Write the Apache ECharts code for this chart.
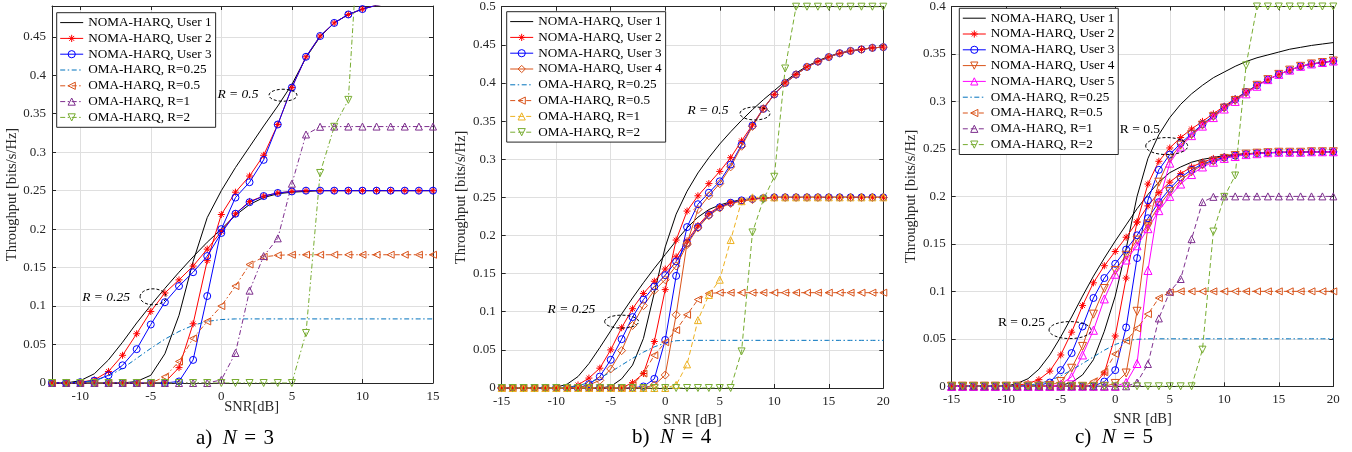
<!DOCTYPE html>
<html><head><meta charset="utf-8">
<script src="https://cdn.jsdelivr.net/npm/echarts@6/dist/echarts.min.js"></script>
<style>html,body{margin:0;padding:0;background:#fff;}#c{width:1352px;height:452px;}</style>
</head><body><div id="c"></div>
<script>
// ---------------- DATA ----------------
const snrA = [-12,-11,-10,-9,-8,-7,-6,-5,-4,-3,-2,-1,0,1,2,3,4,5,6,7,8,9,10,11,12,13,14,15];
const snrB = [-15,-14,-13,-12,-11,-10,-9,-8,-7,-6,-5,-4,-3,-2,-1,0,1,2,3,4,5,6,7,8,9,10,11,12,13,14,15,16,17,18,19,20];
const snrC = snrB;
const xTicksA = [-10,-5,0,5,10,15];
const xTicksBC = [-15,-10,-5,0,5,10,15,20];
const yTicksA = [0,0.05,0.1,0.15,0.2,0.25,0.3,0.35,0.4,0.45];
const yTicksB = [0,0.05,0.1,0.15,0.2,0.25,0.3,0.35,0.4,0.45,0.5];
const yTicksC = [0,0.05,0.1,0.15,0.2,0.25,0.3,0.35,0.4];

// Panel a (N = 3)
const a_u1_r25 = [0,0,0.003,0.012,0.03,0.053,0.078,0.101,0.123,0.144,0.164,0.183,0.2,0.218,0.232,0.241,0.246,0.248,0.249,0.25,0.25,0.25,0.25,0.25,0.25,0.25,0.25,0.25];
const a_u1_r50 = [0,0,0,0,0,0,0.002,0.01,0.038,0.088,0.158,0.215,0.25,0.28,0.307,0.334,0.36,0.388,0.423,0.45,0.468,0.479,0.486,0.491,0.494,0.496,0.498,0.499];
const a_u2_r25 = [0,0,0.001,0.004,0.015,0.036,0.064,0.093,0.117,0.134,0.152,0.174,0.197,0.22,0.236,0.243,0.247,0.249,0.25,0.25,0.25,0.25,0.25,0.25,0.25,0.25,0.25,0.25];
const a_u2_r50 = [0,0,0,0,0,0,0,0,0.001,0.02,0.077,0.159,0.219,0.248,0.269,0.296,0.336,0.384,0.424,0.451,0.468,0.479,0.486,0.491,0.494,0.496,0.498,0.499];
const a_u3_r25 = [0,0,0.001,0.003,0.01,0.023,0.044,0.076,0.105,0.126,0.144,0.165,0.195,0.22,0.235,0.243,0.247,0.249,0.25,0.25,0.25,0.25,0.25,0.25,0.25,0.25,0.25,0.25];
const a_u3_r50 = [0,0,0,0,0,0,0,0,0,0.002,0.03,0.113,0.2,0.241,0.261,0.29,0.336,0.384,0.424,0.451,0.468,0.479,0.486,0.491,0.494,0.496,0.498,0.499];
const a_oma25 = [0,0,0.001,0.003,0.009,0.019,0.032,0.045,0.057,0.067,0.075,0.08,0.0825,0.0833,0.0833,0.0833,0.0833,0.0833,0.0833,0.0833,0.0833,0.0833,0.0833,0.0833,0.0833,0.0833,0.0833,0.0833];
const a_oma50 = [0,0,0,0,0,0,0,0,0.008,0.028,0.058,0.08,0.1,0.126,0.154,0.164,0.166,0.1667,0.1667,0.1667,0.1667,0.1667,0.1667,0.1667,0.1667,0.1667,0.1667,0.1667];
const a_oma1 = [0,0,0,0,0,0,0,0,0,0,0,0,0.004,0.039,0.12,0.165,0.188,0.259,0.323,0.333,0.3333,0.3333,0.3333,0.3333,0.3333,0.3333,0.3333,0.3333];
const a_oma2 = [0,0,0,0,0,0,0,0,0,0,0,0,0,0,0,0,0,0,0.065,0.273,0.333,0.368,0.6667,0.6667,0.6667,0.6667,0.6667,0.6667];

// Panel b (N = 4)
const b_u1_r25 = [0,0,0,0,0,0.001,0.005,0.015,0.032,0.053,0.075,0.097,0.118,0.138,0.157,0.175,0.193,0.21,0.224,0.234,0.24,0.244,0.247,0.248,0.249,0.25,0.25,0.25,0.25,0.25,0.25,0.25,0.25,0.25,0.25,0.25];
const b_u1_r50 = [0,0,0,0,0,0,0,0,0,0,0.002,0.012,0.03,0.065,0.125,0.185,0.228,0.258,0.282,0.302,0.32,0.336,0.351,0.365,0.378,0.39,0.402,0.413,0.422,0.429,0.435,0.439,0.442,0.444,0.446,0.447];
const b_u2_r25 = [0,0,0,0,0,0,0,0.004,0.013,0.026,0.05,0.079,0.104,0.124,0.14,0.156,0.172,0.193,0.213,0.229,0.238,0.243,0.246,0.248,0.249,0.25,0.25,0.25,0.25,0.25,0.25,0.25,0.25,0.25,0.25,0.25];
const b_u2_r50 = [0,0,0,0,0,0,0,0,0,0,0,0,0.007,0.019,0.061,0.129,0.194,0.232,0.252,0.268,0.284,0.302,0.324,0.345,0.367,0.385,0.4,0.411,0.421,0.428,0.434,0.439,0.442,0.444,0.446,0.447];
const b_u3_r25 = [0,0,0,0,0,0,0,0,0.005,0.015,0.037,0.064,0.093,0.116,0.133,0.148,0.166,0.19,0.211,0.227,0.237,0.243,0.246,0.248,0.249,0.25,0.25,0.25,0.25,0.25,0.25,0.25,0.25,0.25,0.25,0.25];
const b_u3_r50 = [0,0,0,0,0,0,0,0,0,0,0,0,0,0.002,0.012,0.063,0.147,0.211,0.241,0.256,0.271,0.293,0.319,0.344,0.366,0.385,0.4,0.411,0.421,0.428,0.434,0.439,0.442,0.444,0.446,0.447];
const b_u4_r25 = [0,0,0,0,0,0,0,0,0.004,0.01,0.025,0.049,0.082,0.108,0.128,0.142,0.16,0.188,0.21,0.226,0.236,0.242,0.245,0.247,0.249,0.25,0.25,0.25,0.25,0.25,0.25,0.25,0.25,0.25,0.25,0.25];
const b_u4_r50 = [0,0,0,0,0,0,0,0,0,0,0,0,0,0,0.004,0.017,0.096,0.19,0.234,0.252,0.268,0.29,0.317,0.343,0.366,0.385,0.4,0.411,0.421,0.428,0.434,0.439,0.442,0.444,0.446,0.447];
const b_oma25 = [0,0,0,0,0,0,0.001,0.003,0.007,0.013,0.021,0.03,0.039,0.047,0.054,0.059,0.062,0.0625,0.0625,0.0625,0.0625,0.0625,0.0625,0.0625,0.0625,0.0625,0.0625,0.0625,0.0625,0.0625,0.0625,0.0625,0.0625,0.0625,0.0625,0.0625];
const b_oma50 = [0,0,0,0,0,0,0,0,0,0,0,0,0.004,0.019,0.043,0.06,0.076,0.096,0.116,0.124,0.125,0.125,0.125,0.125,0.125,0.125,0.125,0.125,0.125,0.125,0.125,0.125,0.125,0.125,0.125,0.125];
const b_oma1 = [0,0,0,0,0,0,0,0,0,0,0,0,0,0,0,0,0.004,0.031,0.089,0.122,0.142,0.194,0.245,0.25,0.25,0.25,0.25,0.25,0.25,0.25,0.25,0.25,0.25,0.25,0.25,0.25];
const b_oma2 = [0,0,0,0,0,0,0,0,0,0,0,0,0,0,0,0,0,0,0,0,0,0,0.048,0.204,0.247,0.277,0.419,0.5,0.5,0.5,0.5,0.5,0.5,0.5,0.5,0.5];

// Panel c (N = 5)
const c_u1_r25 = [0,0,0,0,0,0,0.003,0.008,0.018,0.033,0.052,0.073,0.095,0.116,0.135,0.153,0.17,0.187,0.202,0.215,0.225,0.231,0.236,0.239,0.241,0.243,0.244,0.245,0.2455,0.246,0.246,0.2465,0.2465,0.247,0.247,0.247];
const c_u1_r50 = [0,0,0,0,0,0,0,0,0,0,0.001,0.004,0.012,0.028,0.058,0.095,0.145,0.2,0.24,0.265,0.283,0.297,0.308,0.317,0.325,0.331,0.337,0.342,0.346,0.349,0.352,0.355,0.357,0.359,0.3605,0.362];
const c_u2_r25 = [0,0,0,0,0,0,0.001,0.003,0.007,0.016,0.033,0.057,0.085,0.109,0.127,0.142,0.157,0.173,0.19,0.204,0.215,0.224,0.231,0.236,0.24,0.242,0.244,0.245,0.2455,0.246,0.2465,0.2465,0.2465,0.247,0.247,0.247];
const c_u2_r50 = [0,0,0,0,0,0,0,0,0,0,0,0,0,0.001,0.014,0.053,0.114,0.173,0.213,0.237,0.251,0.262,0.271,0.279,0.287,0.295,0.303,0.31,0.317,0.323,0.3285,0.333,0.337,0.3395,0.341,0.3426];
const c_u3_r25 = [0,0,0,0,0,0,0,0,0.001,0.004,0.017,0.035,0.063,0.093,0.114,0.129,0.144,0.159,0.177,0.194,0.208,0.22,0.228,0.234,0.238,0.241,0.243,0.2445,0.2455,0.246,0.2465,0.2465,0.2465,0.247,0.247,0.247];
const c_u3_r50 = [0,0,0,0,0,0,0,0,0,0,0,0,0,0,0.005,0.017,0.062,0.135,0.196,0.228,0.244,0.256,0.266,0.276,0.285,0.294,0.302,0.31,0.317,0.323,0.3285,0.333,0.337,0.3395,0.341,0.3426];
const c_u4_r25 = [0,0,0,0,0,0,0,0,0,0.001,0.005,0.019,0.042,0.076,0.103,0.122,0.138,0.154,0.171,0.19,0.205,0.217,0.226,0.233,0.237,0.24,0.243,0.2445,0.2455,0.246,0.2465,0.2465,0.2465,0.247,0.247,0.247];
const c_u4_r50 = [0,0,0,0,0,0,0,0,0,0,0,0,0,0,0,0.003,0.014,0.079,0.168,0.215,0.24,0.254,0.265,0.275,0.284,0.293,0.301,0.309,0.317,0.323,0.3285,0.333,0.337,0.3395,0.341,0.3426];
const c_u5_r25 = [0,0,0,0,0,0,0,0,0,0,0.002,0.01,0.033,0.059,0.092,0.118,0.133,0.148,0.166,0.185,0.2,0.213,0.223,0.231,0.236,0.24,0.242,0.244,0.245,0.246,0.2465,0.2465,0.2465,0.247,0.247,0.247];
const c_u5_r50 = [0,0,0,0,0,0,0,0,0,0,0,0,0,0,0,0,0.004,0.024,0.122,0.194,0.235,0.252,0.264,0.274,0.283,0.292,0.3,0.308,0.316,0.323,0.3285,0.333,0.337,0.3395,0.341,0.3426];
const c_oma25 = [0,0,0,0,0,0,0,0.001,0.003,0.006,0.011,0.017,0.024,0.031,0.038,0.044,0.048,0.0495,0.05,0.05,0.05,0.05,0.05,0.05,0.05,0.05,0.05,0.05,0.05,0.05,0.05,0.05,0.05,0.05,0.05,0.05];
const c_oma50 = [0,0,0,0,0,0,0,0,0,0,0,0,0,0.005,0.015,0.034,0.048,0.061,0.076,0.093,0.099,0.1,0.1,0.1,0.1,0.1,0.1,0.1,0.1,0.1,0.1,0.1,0.1,0.1,0.1,0.1];
const c_oma1 = [0,0,0,0,0,0,0,0,0,0,0,0,0,0,0,0,0,0.004,0.0235,0.0715,0.0996,0.113,0.155,0.194,0.1995,0.2,0.2,0.2,0.2,0.2,0.2,0.2,0.2,0.2,0.2,0.2];
const c_oma2 = [0,0,0,0,0,0,0,0,0,0,0,0,0,0,0,0,0,0,0,0,0,0,0,0.0386,0.163,0.1995,0.222,0.338,0.4,0.4,0.4,0.4,0.4,0.4,0.4,0.4];

const L_U = ['NOMA-HARQ, User 1','NOMA-HARQ, User 2','NOMA-HARQ, User 3','NOMA-HARQ, User 4','NOMA-HARQ, User 5'];
const L_O = ['OMA-HARQ, R=0.25','OMA-HARQ, R=0.5','OMA-HARQ, R=1','OMA-HARQ, R=2'];
const yName = 'Throughput [bits/s/Hz]';
const xNames = ['SNR[dB]','SNR [dB]','SNR [dB]'];

// ---------------- STYLE ----------------
const FONT = '"Liberation Serif","Times New Roman",serif';
const STAR = 'path://M5,0L5,10M0,5L10,5M1.6,1.6L8.4,8.4M8.4,1.6L1.6,8.4';
const TDOWN = 'path://M0,0L10,0L5,8.66Z';
const TLEFT = 'path://M0,5L8.66,0L8.66,10Z';
const DASHDOT = [5,2.5,1.5,2.5];
const DASH = [5,3];
const S = {
  u1:{color:'#000000',symbol:'none'},
  u2:{color:'#FF0000',symbol:STAR,fill:'#FF0000',size:7},
  u3:{color:'#0000FF',symbol:'circle',size:7},
  u4d:{color:'#D95319',symbol:'diamond',size:8},
  u4t:{color:'#D95319',symbol:TDOWN,size:8},
  u5:{color:'#FF00FF',symbol:'triangle',size:8},
  o25:{color:'#0072BD',symbol:'none'},
  o50:{color:'#D95319',symbol:TLEFT,size:7},
  o1p:{color:'#7E2F8E',symbol:'triangle',size:7},
  o1y:{color:'#EDB120',symbol:'triangle',size:7},
  o2:{color:'#77AC30',symbol:TDOWN,size:7}
};

const series = [];
function add(g, label, xs, ys, st, dash){
  series.push({
    type:'line', name: g+'|'+label, xAxisIndex:2*g, yAxisIndex:2*g,
    data: xs.map((x,i)=>[x, ys[i]]),
    symbol: st.symbol, symbolSize: st.size||7, showSymbol: st.symbol!=='none',
    lineStyle:{color:st.color, width:1, type: dash||'solid'},
    itemStyle:{color: st.fill||'rgba(0,0,0,0)', borderColor: st.color, borderWidth:1},
    emphasis:{disabled:true}, silent:true, animation:false, clip:true
  });
}
// panel a
add(0,L_U[0],snrA,a_u1_r25,S.u1); add(0,L_U[0],snrA,a_u1_r50,S.u1);
add(0,L_U[1],snrA,a_u2_r25,S.u2); add(0,L_U[1],snrA,a_u2_r50,S.u2);
add(0,L_U[2],snrA,a_u3_r25,S.u3); add(0,L_U[2],snrA,a_u3_r50,S.u3);
add(0,L_O[0],snrA,a_oma25,S.o25,DASHDOT);
add(0,L_O[1],snrA,a_oma50,S.o50,DASHDOT);
add(0,L_O[2],snrA,a_oma1,S.o1p,DASHDOT);
add(0,L_O[3],snrA,a_oma2,S.o2,DASHDOT);
// panel b
add(1,L_U[0],snrB,b_u1_r25,S.u1); add(1,L_U[0],snrB,b_u1_r50,S.u1);
add(1,L_U[1],snrB,b_u2_r25,S.u2); add(1,L_U[1],snrB,b_u2_r50,S.u2);
add(1,L_U[2],snrB,b_u3_r25,S.u3); add(1,L_U[2],snrB,b_u3_r50,S.u3);
add(1,L_U[3],snrB,b_u4_r25,S.u4d); add(1,L_U[3],snrB,b_u4_r50,S.u4d);
add(1,L_O[0],snrB,b_oma25,S.o25,DASHDOT);
add(1,L_O[1],snrB,b_oma50,S.o50,DASH);
add(1,L_O[2],snrB,b_oma1,S.o1y,DASH);
add(1,L_O[3],snrB,b_oma2,S.o2,DASH);
// panel c
add(2,L_U[0],snrC,c_u1_r25,S.u1); add(2,L_U[0],snrC,c_u1_r50,S.u1);
add(2,L_U[1],snrC,c_u2_r25,S.u2); add(2,L_U[1],snrC,c_u2_r50,S.u2);
add(2,L_U[2],snrC,c_u3_r25,S.u3); add(2,L_U[2],snrC,c_u3_r50,S.u3);
add(2,L_U[3],snrC,c_u4_r25,S.u4t); add(2,L_U[3],snrC,c_u4_r50,S.u4t);
add(2,L_U[4],snrC,c_u5_r25,S.u5); add(2,L_U[4],snrC,c_u5_r50,S.u5);
add(2,L_O[0],snrC,c_oma25,S.o25,DASHDOT);
add(2,L_O[1],snrC,c_oma50,S.o50,DASH);
add(2,L_O[2],snrC,c_oma1,S.o1p,DASH);
add(2,L_O[3],snrC,c_oma2,S.o2,DASH);

const grids = [
  {left:52, top:6, width:381, height:377},
  {left:501.7, top:6.7, width:381.6, height:381.3},
  {left:951.7, top:6, width:381.6, height:380.3}
];
const xr = [[-12,15,xTicksA],[-15,20,xTicksBC],[-15,20,xTicksBC]];
const yr = [[0,0.49,yTicksA],[0,0.5,yTicksB],[0,0.4,yTicksC]];
const AX = '#262626';
const xAxis=[], yAxis=[];
for (let g=0; g<3; g++){
  const lab = {fontFamily:FONT,fontSize:13,color:AX};
  xAxis.push({type:'value',gridIndex:g,min:xr[g][0],max:xr[g][1],position:'bottom',
    name: g===0 ? '' : xNames[g], nameLocation:'middle',nameGap:16.5,nameTextStyle:{fontFamily:FONT,fontSize:14.5,color:AX},
    axisLine:{show:true,onZero:false,lineStyle:{color:AX,width:1}},
    axisTick:{show:true,inside:true,length:4,customValues:xr[g][2],lineStyle:{color:AX}},
    axisLabel:Object.assign({show:true,margin:7,customValues:xr[g][2]},lab),
    splitLine:{show:true,lineStyle:{color:'#dfdfdf',width:1}}});
  xAxis.push({type:'value',gridIndex:g,min:xr[g][0],max:xr[g][1],position:'top',
    axisLine:{show:true,onZero:false,lineStyle:{color:AX,width:1}},
    axisTick:{show:true,inside:true,length:4,customValues:xr[g][2],lineStyle:{color:AX}},
    axisLabel:{show:false},splitLine:{show:false}});
  yAxis.push({type:'value',gridIndex:g,min:yr[g][0],max:yr[g][1],position:'left',
    name:yName,nameLocation:'middle',nameRotate:90,nameGap:28.5,nameTextStyle:{fontFamily:FONT,fontSize:14.5,color:AX},
    axisLine:{show:true,onZero:false,lineStyle:{color:AX,width:1}},
    axisTick:{show:true,inside:true,length:4,customValues:yr[g][2],lineStyle:{color:AX}},
    axisLabel:Object.assign({show:true,margin:6,customValues:yr[g][2]},lab),
    splitLine:{show:true,lineStyle:{color:'#dfdfdf',width:1}}});
  yAxis.push({type:'value',gridIndex:g,min:yr[g][0],max:yr[g][1],position:'right',
    axisLine:{show:true,onZero:false,lineStyle:{color:AX,width:1}},
    axisTick:{show:true,inside:true,length:4,customValues:yr[g][2],lineStyle:{color:AX}},
    axisLabel:{show:false},splitLine:{show:false}});
}

function legendFor(g, names, noSym, pos){
  return {
    orient:'vertical', left:pos[0], top:pos[1], itemWidth:23, itemHeight:9, itemGap:0,
    padding:[2,4,2,3], backgroundColor:'#ffffff', borderColor:AX, borderWidth:1,
    selectedMode:false, z:10,
    textStyle:{fontFamily:FONT,fontSize:13.2,color:'#000',lineHeight:15.8},
    itemStyle:{borderWidth:1}, lineStyle:{width:1},
    formatter: n => n.split('|')[1],
    data: names.map(n => noSym.indexOf(n)>=0 ? {name:g+'|'+n, itemStyle:{opacity:0}} : {name:g+'|'+n})
  };
}
const noSym = [L_U[0], L_O[0]];
const legend = [
  legendFor(0, [L_U[0],L_U[1],L_U[2]].concat(L_O), noSym, [56.7,12.7]),
  legendFor(1, [L_U[0],L_U[1],L_U[2],L_U[3]].concat(L_O), noSym, [506.7,11.7]),
  legendFor(2, L_U.concat(L_O), noSym, [959.3,8.3])
];

const chart = echarts.init(document.getElementById('c'), null, {renderer:'canvas', width:1352, height:452});
chart.setOption({animation:false, backgroundColor:'#ffffff', grid:grids, xAxis, yAxis, legend, series});

// ---------------- ANNOTATIONS (anchored in data coordinates) ----------------
const ANN = [
  {g:0, kind:'text', at:[1.18,0.375], text:'R = 0.5', italic:true},
  {g:0, kind:'ell', at:[4.37,0.374], r:[14,6]},
  {g:0, kind:'text', at:[-8.17,0.111], text:'R = 0.25', italic:true},
  {g:0, kind:'ell', at:[-4.84,0.112], r:[13,8]},
  {g:1, kind:'text', at:[3.92,0.364], text:'R = 0.5', italic:true},
  {g:1, kind:'ell', at:[8.23,0.36], r:[15,6.5]},
  {g:1, kind:'text', at:[-8.6,0.1035], text:'R = 0.25', italic:true},
  {g:1, kind:'ell', at:[-4.0,0.087], r:[17,6.5]},
  {g:2, kind:'text', at:[2.27,0.2706], text:'R = 0.5', italic:false},
  {g:2, kind:'ell', at:[4.72,0.253], r:[21,8.5]},
  {g:2, kind:'text', at:[-8.6,0.0669], text:'R = 0.25', italic:false},
  {g:2, kind:'ell', at:[-4.15,0.0592], r:[21,8.5]}
];
const graphic = [];
ANN.forEach(a => {
  const p = chart.convertToPixel({xAxisIndex:2*a.g, yAxisIndex:2*a.g}, a.at);
  if (a.kind==='text') {
    graphic.push({type:'text', x:p[0], y:p[1], z:20, style:{text:a.text, fontFamily:FONT, fontSize:13.5,
      fontStyle:a.italic?'italic':'normal', fill:'#000', align:'center', verticalAlign:'middle'}});
  } else {
    graphic.push({type:'ellipse', z:20, shape:{cx:p[0], cy:p[1], rx:a.r[0], ry:a.r[1]},
      style:{fill:'none', stroke:'#000', lineWidth:1, lineDash:[3,2]}});
  }
});
// x-axis title of panel a (sits slightly right of the plot centre in the original)
const pa = chart.convertToPixel({xAxisIndex:0, yAxisIndex:0}, [2.15, 0]);
graphic.push({type:'text', x:pa[0], y:pa[1]+24, z:20, style:{text:xNames[0], fontFamily:FONT, fontSize:14.5,
  fill:AX, align:'center', verticalAlign:'middle'}});
const CAP = [[235,438,'a)','3'],[671.7,437,'b)','4'],[1114,437,'c)','5']];
CAP.forEach(c => {
  graphic.push({type:'text', x:c[0], y:c[1], z:20, style:{
    text:'{r|'+c[2]+'}{s|  }{i|N}{g| }{r|=}{g| }{r|'+c[3]+'}', align:'center', verticalAlign:'middle',
    rich:{r:{fontFamily:FONT,fontSize:21,fill:'#000'},
          s:{fontFamily:FONT,fontSize:21,fill:'#000'},
          g:{fontFamily:FONT,fontSize:30,fill:'#000'},
          i:{fontFamily:FONT,fontSize:21,fontStyle:'italic',fill:'#000'}}
  }});
});
chart.setOption({graphic});
</script>
</body></html>
